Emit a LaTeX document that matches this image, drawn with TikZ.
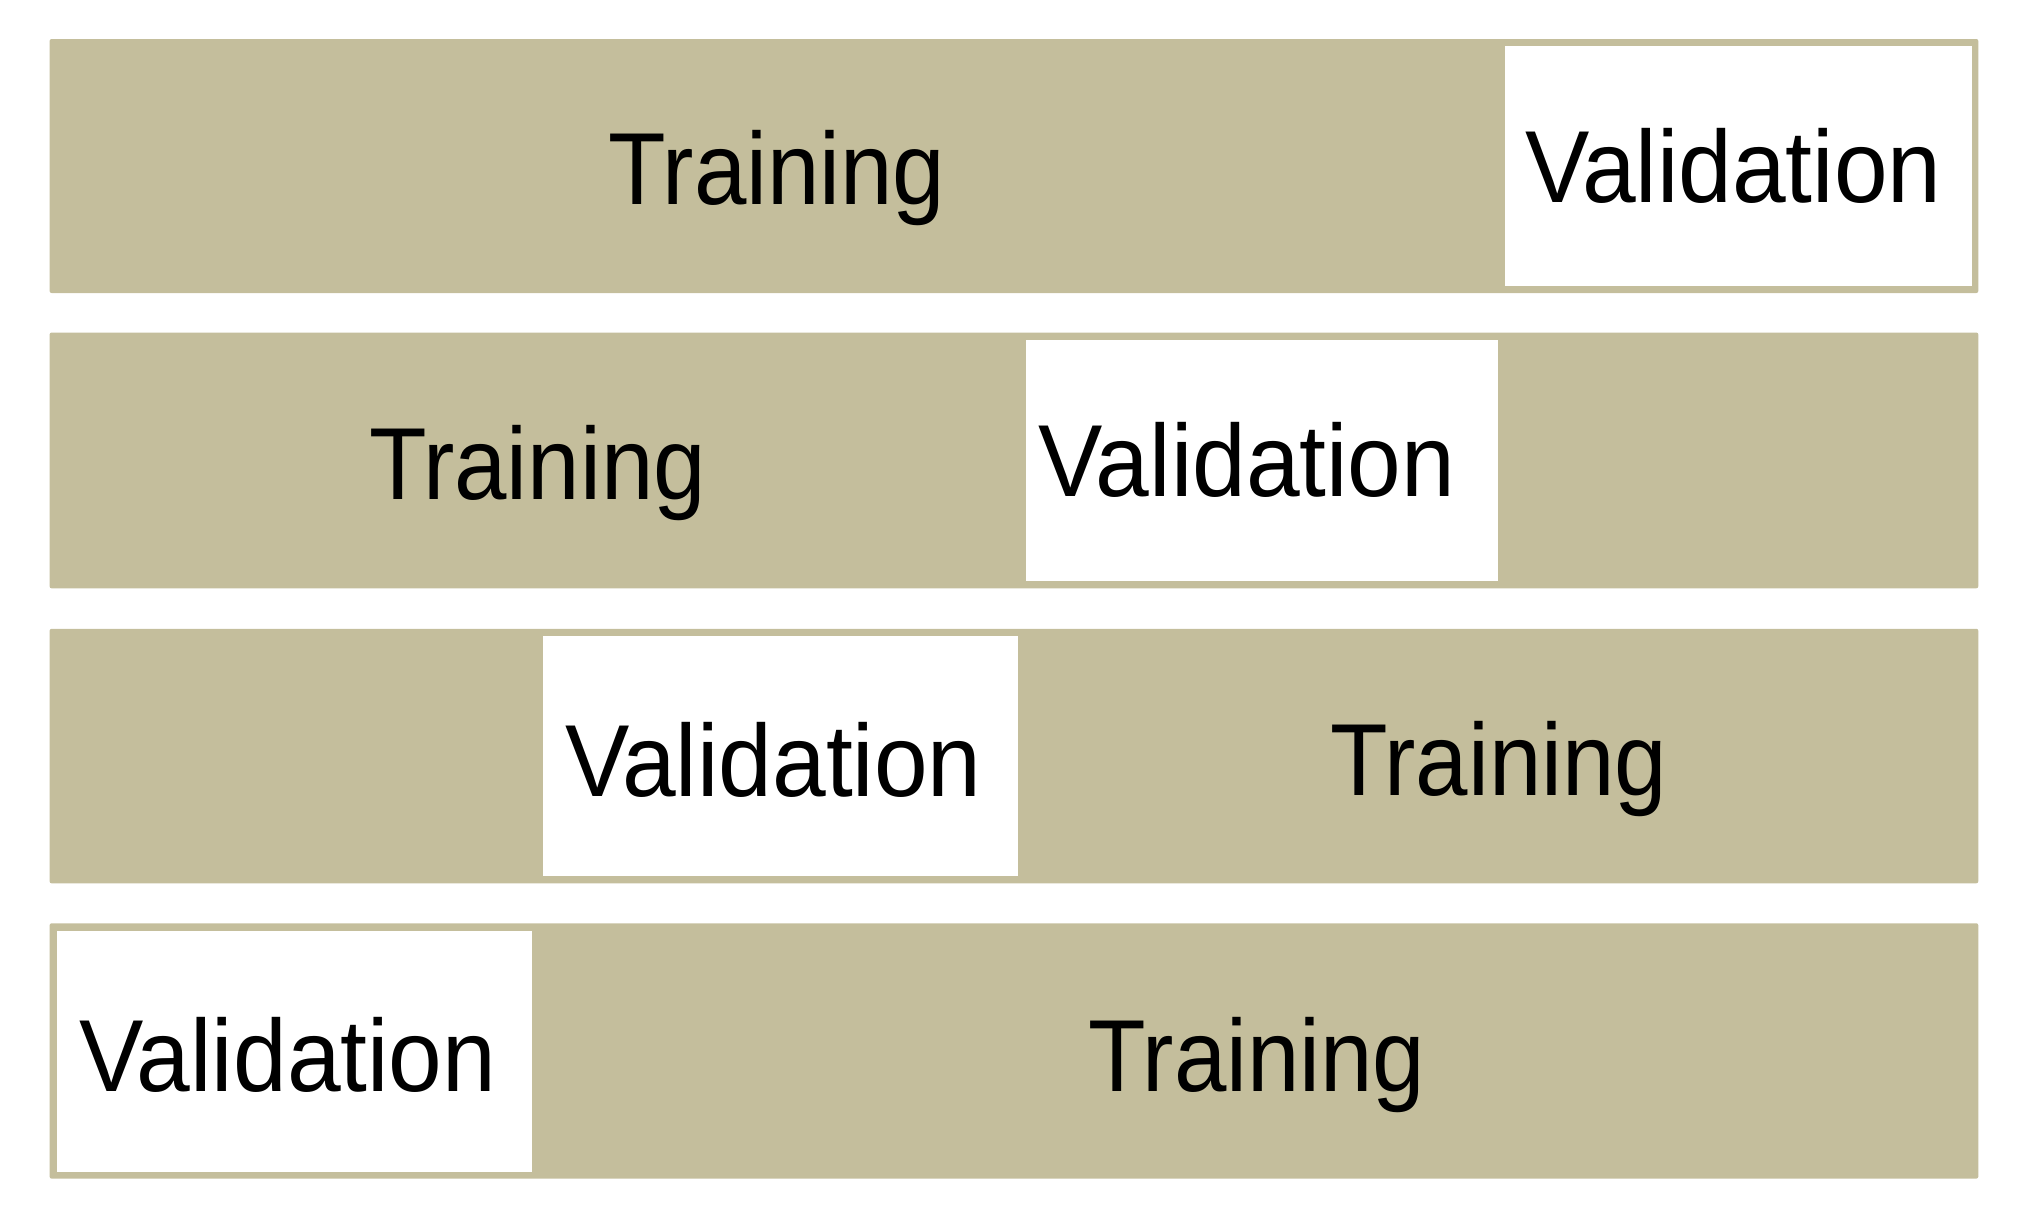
\documentclass[tikz,border=0pt]{standalone}
\usepackage{fontspec}
\newfontfamily\trainfont[FakeStretch=0.92]{Liberation Sans}
\newfontfamily\valfont[FakeStretch=0.942]{Liberation Sans}
\definecolor{tanbar}{RGB}{196,190,156}
\tikzset{
  barbox/.style={fill=tanbar, draw=none, rounded corners=1pt},
  valbox/.style={fill=white, draw=none},
  lbl/.style={anchor=base, inner sep=0pt, outer sep=0pt, text=black},
  trainlbl/.style={lbl, font=\trainfont\fontsize{51.2pt}{60pt}\selectfont},
  vallbl/.style={lbl, font=\valfont\fontsize{51.2pt}{60pt}\selectfont}
}
\begin{document}
\begin{tikzpicture}[x=0.5pt, y=-0.5pt]
  \useasboundingbox (0,0) rectangle (2026,1228);
  % bars
  \path[barbox] (49.6,39)    rectangle (1978.3,293);
  \path[barbox] (49.6,332.5) rectangle (1978.3,588.3);
  \path[barbox] (49.6,628.8) rectangle (1978.3,883.3);
  \path[barbox] (49.6,923.3) rectangle (1978.3,1178.6);
  % validation windows
  \path[valbox] (1504.6,46)  rectangle (1971.7,286);
  \path[valbox] (1026,340)   rectangle (1498.3,581);
  \path[valbox] (543,635.7)  rectangle (1018,876);
  \path[valbox] (56.7,930.7) rectangle (531.7,1171.7);
  % labels
  \node[trainlbl] (train1) at (777,204)     {Training};
  \node[vallbl]   (val1)   at (1733.3,202.3){Validation};
  \node[trainlbl] (train2) at (537.5,499)   {Training};
  \node[vallbl]   (val2)   at (1247,496)    {Validation};
  \node[vallbl]   (val3)   at (773.4,796)   {Validation};
  \node[trainlbl] (train3) at (1498.7,795.7){Training};
  \node[vallbl]   (val4)   at (288,1091)    {Validation};
  \node[trainlbl] (train4) at (1257,1091)   {Training};
\end{tikzpicture}
\end{document}
